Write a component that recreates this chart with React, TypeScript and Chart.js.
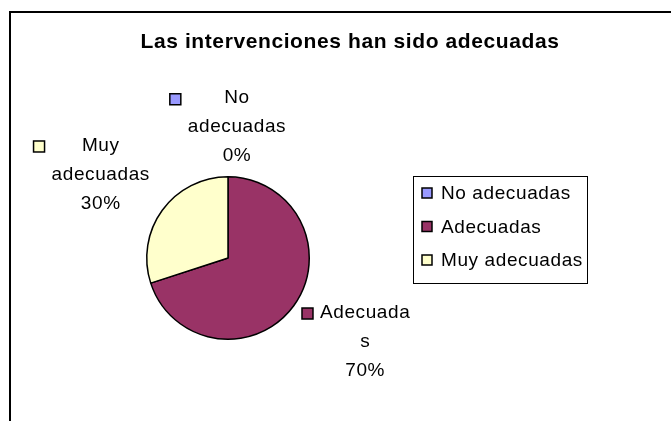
import React, { useEffect, useRef } from "react";
import { Chart, registerables } from "chart.js";

Chart.register(...registerables);

const chartTitle = "Las intervenciones han sido adecuadas";
const categories = ["No adecuadas", "Adecuadas", "Muy adecuadas"];
const values = [0, 70, 30];
const colors = ["#9999FF", "#993366", "#FFFFCC"];
// Excel's wrapped data-label text for each category
const labelLines = [["No", "adecuadas"], ["Adecuada", "s"], ["Muy", "adecuadas"]];

const FONT = "'Liberation Sans', Arial, sans-serif";

const overlayPlugin = {
  id: "overlay",
  afterDraw(chart: any) {
    const ctx = chart.ctx as CanvasRenderingContext2D;
    ctx.save();
    // frame
    ctx.strokeStyle = "#000";
    ctx.lineWidth = 2;
    ctx.strokeRect(10, 12, 800, 600);

    // title
    ctx.fillStyle = "#000";
    ctx.font = `bold 21px ${FONT}`;
    (ctx as any).letterSpacing = "0.6px";
    ctx.textAlign = "center";
    ctx.textBaseline = "alphabetic";
    ctx.fillText(chartTitle, 350, 48);

    // data labels
    const total = values.reduce((a, b) => a + b, 0);
    const meta = chart.getDatasetMeta(0);
    ctx.font = `19px ${FONT}`;
    (ctx as any).letterSpacing = "0.6px";
    ctx.textBaseline = "middle";
    const lineH = 29;
    const sq = 11;
    const gap = 7;
    meta.data.forEach((arc: any, i: number) => {
      const p = arc.getProps(["x", "y", "startAngle", "endAngle", "outerRadius"], true);
      const mid = (p.startAngle + p.endAngle) / 2;
      const dx = Math.cos(mid);
      const dy = Math.sin(mid);
      const pct = Math.round((values[i] / total) * 100) + "%";
      const lines = [...labelLines[i], pct];
      let textW = 0;
      lines.forEach((l) => (textW = Math.max(textW, ctx.measureText(l).width)));
      const blockW = sq + gap + textW;
      const blockH = lines.length * lineH;
      const padY = 6 + 14 * Math.abs(dx);
      const padX = dx < 0 ? 29 : 23;
      const cx = p.x + dx * (p.outerRadius + padX + blockW / 2);
      const cy = p.y + dy * (p.outerRadius + padY + blockH / 2);
      const left = cx - blockW / 2;
      const top = cy - blockH / 2;
      const textCx = left + sq + gap + textW / 2;
      ctx.fillStyle = colors[i];
      ctx.fillRect(left, top + lineH / 2 - sq / 2 + 1, sq, sq);
      ctx.lineWidth = 1.5;
      ctx.strokeStyle = "#000";
      ctx.strokeRect(left, top + lineH / 2 - sq / 2 + 1, sq, sq);
      ctx.fillStyle = "#000";
      ctx.textAlign = "center";
      lines.forEach((l, k) => ctx.fillText(l, textCx, top + lineH / 2 + k * lineH));
    });

    // legend
    const lx = 413, ly = 176, lw = 174, lh = 107;
    ctx.lineWidth = 1;
    ctx.strokeStyle = "#000";
    ctx.strokeRect(lx + 0.5, ly + 0.5, lw, lh);
    ctx.textAlign = "left";
    categories.forEach((c, i) => {
      const yc = 193 + i * 33.5;
      ctx.fillStyle = colors[i];
      ctx.fillRect(422, yc - 5, 10, 10);
      ctx.lineWidth = 1.5;
      ctx.strokeStyle = "#000";
      ctx.strokeRect(422, yc - 5, 10, 10);
      ctx.fillStyle = "#000";
      ctx.fillText(c, 441, yc + 1);
    });
    ctx.restore();
  },
};

export default function App() {
  const ref = useRef<HTMLCanvasElement>(null);
  useEffect(() => {
    document.body.style.margin = "0";
    const chart = new Chart(ref.current!, {
      type: "pie",
      data: {
        labels: categories,
        datasets: [
          {
            data: values,
            backgroundColor: colors,
            borderColor: "#000",
            borderWidth: 1.5,
          },
        ],
      },
      options: {
        responsive: false,
        animation: false,
        devicePixelRatio: 1,
        layout: { padding: { left: 146, top: 176, right: 361, bottom: 81 } },
        plugins: { legend: { display: false }, tooltip: { enabled: false }, title: { display: false } },
      },
      plugins: [overlayPlugin],
    });
    return () => chart.destroy();
  }, []);
  return (
    <div style={{ width: 671, height: 421, background: "#fff" }}>
      <canvas ref={ref} width={671} height={421} />
    </div>
  );
}
